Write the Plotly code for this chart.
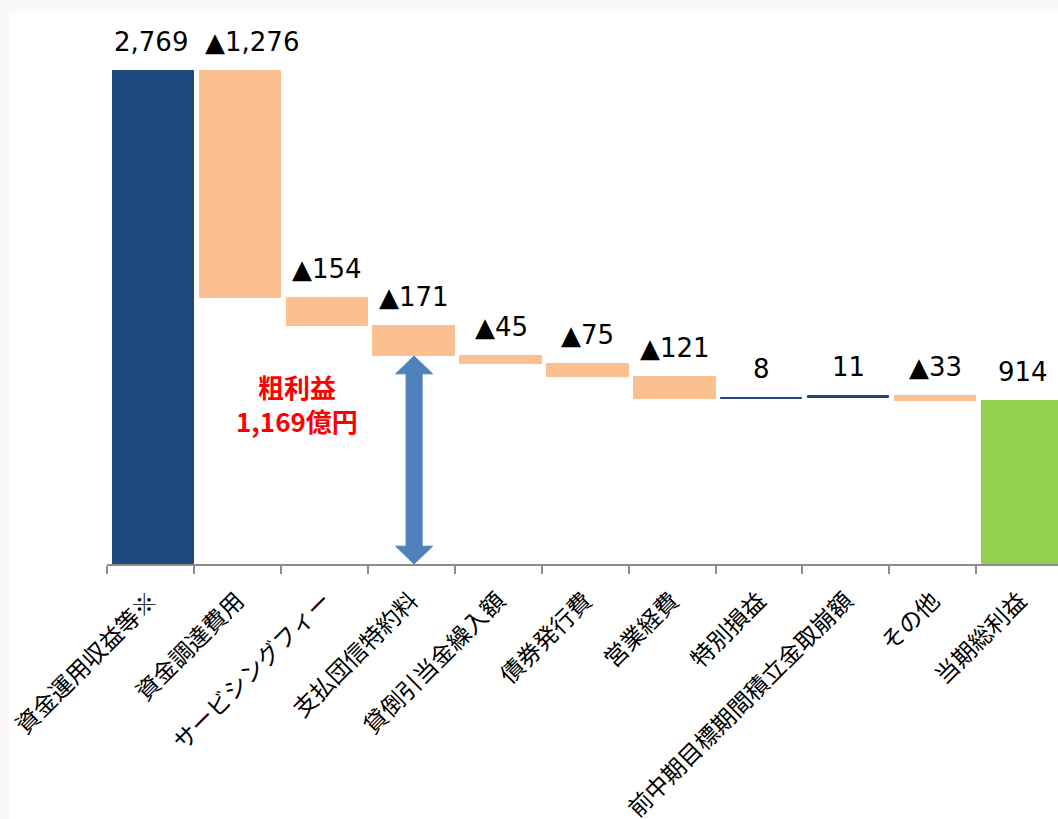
import plotly.graph_objects as go

# ---------------- data ----------------
categories = [
    "資金運用収益等※", "資金調達費用", "サービシングフィー", "支払団信特約料",
    "貸倒引当金繰入額", "債券発行費", "営業経費", "特別損益",
    "前中期目標期間積立金取崩額", "その他", "当期総利益",
]
values = [2769, -1276, -154, -171, -45, -75, -121, 8, 11, -33, 914]
measures = ["absolute"] + ["relative"] * 9 + ["total"]
gross_profit_lines = ["粗利益", "1,169億円"]
gross_profit_last_index = 3   # 支払団信特約料: arrow ends at bottom of this step

# ---------------- styles ----------------
NAVY = "#1F497D"
PEACH = "#FAC090"
GREEN = "#92D050"
ARROW = "#4F81BD"
AXIS = "#8C8C8C"
BAR_WIDTH = 0.935
BAR_OFFSET = -0.435
X_RANGE = [-0.5, 10.439]
Y_RANGE = [0, 3100]

# ---------------- derived bar geometry ----------------
bases, heights, colors, tops, ends = [], [], [], [], []
cum = 0
for v, m in zip(values, measures):
    if m == "absolute":
        base, h, cum = 0, v, v
        col = NAVY
    elif m == "total":
        base, h = 0, v
        col = GREEN
    else:
        base, h = cum, v
        cum += v
        col = NAVY if v > 0 else PEACH
    bases.append(base)
    heights.append(h)
    colors.append(col)
    tops.append(max(base, base + h))
    ends.append(cum)

labels = [("▲" + f"{abs(v):,}") if v < 0 else f"{v:,}" for v in values]
arrow_top = ends[gross_profit_last_index]

fig = go.Figure()
fig.add_trace(go.Bar(
    x=categories, y=heights, base=bases,
    width=BAR_WIDTH, offset=BAR_OFFSET,
    marker=dict(color=colors, line=dict(color=colors, width=1)),
    hoverinfo="skip", showlegend=False,
))

center_shift = BAR_OFFSET + BAR_WIDTH / 2
annotations = []
for i, (lab, top) in enumerate(zip(labels, tops)):
    # nudge a label that would collide with its left neighbour
    xs = 12 if i == 1 else (-2 if i == 0 else 0)
    annotations.append(dict(
        x=i + center_shift, y=top, xref="x2", yref="y",
        text=lab, showarrow=False, yanchor="middle", yshift=29, xshift=xs,
        font=dict(family="DejaVu Sans", size=26, color="black"),
    ))

# gross-profit text
annotations.append(dict(
    x=1.69, y=903, xref="x2", yref="y",
    text="<br>".join(gross_profit_lines), showarrow=False,
    xanchor="center", yanchor="middle", align="center",
    font=dict(family="Noto Sans CJK JP", size=26, color="#FF0000", weight="bold"),
))

shapes = []
# page-edge tint
shapes.append(dict(type="rect", xref="paper", yref="paper", x0=-0.2, x1=1.1, y0=1.0, y1=1.1,
                   fillcolor="#FAF9F7", line=dict(width=0), layer="below"))
shapes.append(dict(type="rect", xref="paper", yref="paper", x0=-0.2, x1=-0.103, y0=-0.6, y1=1.1,
                   fillcolor="#FAF9F7", line=dict(width=0), layer="below"))

# double-headed arrow (x in pixels around anchor, y in data units)
head = 100
hw, sw = 18.5, 8
ax_c = gross_profit_last_index + center_shift
path = (f"M 0,{arrow_top} L {hw},{arrow_top - head} L {sw},{arrow_top - head} "
        f"L {sw},{head} L {hw},{head} L 0,0 L {-hw},{head} L {-sw},{head} "
        f"L {-sw},{arrow_top - head} L {-hw},{arrow_top - head} Z")
shapes.append(dict(type="path", xref="x2", yref="y", xsizemode="pixel", xanchor=ax_c,
                   path=path, fillcolor=ARROW, line=dict(color=ARROW, width=1), layer="above"))

fig.update_layout(
    width=1058, height=819,
    margin=dict(l=107.3, r=0, t=12, b=254.5, autoexpand=False),
    paper_bgcolor="white", plot_bgcolor="white",
    font=dict(family="Noto Sans CJK JP", color="black"),
    bargap=0,
    xaxis=dict(
        type="category", range=X_RANGE, tickson="boundaries",
        ticks="outside", ticklen=8, tickwidth=1.5, tickcolor=AXIS,
        showline=True, linecolor=AXIS, linewidth=1.5,
        showgrid=False, zeroline=False, tickangle=-45,
        ticklabelstandoff=12,
        tickfont=dict(family="Noto Sans CJK JP", size=23.5, color="black"),
        automargin=False,
    ),
    xaxis2=dict(overlaying="x", range=X_RANGE, visible=False, showgrid=False, zeroline=False),
    yaxis=dict(range=Y_RANGE, visible=False, showgrid=False, zeroline=False),
    annotations=annotations,
    shapes=shapes,
)
# invisible trace to activate xaxis2
fig.add_trace(go.Scatter(x=[0], y=[0], xaxis="x2", mode="markers",
                         marker=dict(opacity=0), hoverinfo="skip", showlegend=False))

fig.write_html("out.html")
